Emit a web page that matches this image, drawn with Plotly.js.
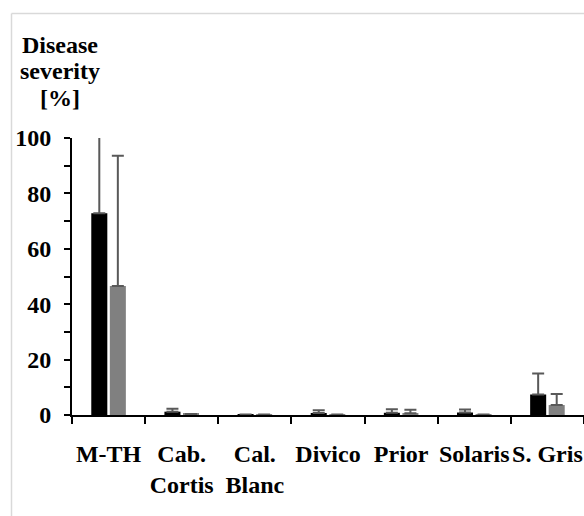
<!DOCTYPE html>
<html>
<head>
<meta charset="utf-8">
<script src="https://cdn.plot.ly/plotly-3.0.1.min.js"></script>
<style>
  html, body { margin: 0; padding: 0; background: #ffffff; }
  #chart { width: 584px; height: 516px; }
</style>
</head>
<body>
<div id="chart"></div>
<script>
// Categories (x-axis labels)
const categories = ["M-TH", "Cab.<br>Cortis", "Cal.<br>Blanc", "Divico", "Prior", "Solaris", "S. Gris"];

// Series 1 (black bars) and its error
const seriesBlack = [72.8, 1.2, 0.2, 0.7, 0.8, 0.9, 7.4];
const errorBlack  = [30, 1.1, 0, 1.0, 1.3, 1.1, 7.6];

// Series 2 (gray bars) and its error
const seriesGray  = [46.6, 0.4, 0.2, 0.2, 0.6, 0.2, 3.6];
const errorGray   = [47, 0, 0, 0, 1.3, 0, 4.0];

// Y-axis ticks
const yTickVals = [0, 10, 20, 30, 40, 50, 60, 70, 80, 90, 100];
const yTickText = ["0", "", "20", "", "40", "", "60", "", "80", "", "100"];

// Y-axis title lines
const yTitleLines = ["Disease", "severity", "[%]"];

const W = 584, H = 516;
const mL = 72, mR = 0, mT = 137.5, mB = 100.5;
const plotW = W - mL - mR, plotH = H - mT - mB;
const px2x = p => (p - mL) / plotW;
const px2y = p => 1 - (p - mT) / plotH;

const FAM = "Liberation Serif";
const FS = 24;
const boldFont = { family: FAM, size: FS, color: "#000000", weight: "bold" };

const errStyle = { type: "data", visible: true, symmetric: false, color: "#595959", thickness: 2, width: 6 };

const traces = [
  {
    type: "bar", x: categories, y: seriesBlack,
    marker: { color: "#000000", line: { width: 0 } },
    error_y: Object.assign({}, errStyle, { array: errorBlack, arrayminus: seriesBlack.map(() => 0) }),
    name: "A", hoverinfo: "skip"
  },
  {
    type: "bar", x: categories, y: seriesGray,
    marker: { color: "#808080", line: { width: 0 } },
    error_y: Object.assign({}, errStyle, { array: errorGray, arrayminus: seriesGray.map(() => 0) }),
    name: "B", hoverinfo: "skip"
  }
];

const titleCenters = [44, 70.5, 97];
const annotations = yTitleLines.map((t, i) => ({
  text: t, showarrow: false,
  xref: "paper", yref: "paper",
  x: px2x(59.5), y: px2y(titleCenters[i]),
  xanchor: "center", yanchor: "middle",
  font: boldFont
}));

const layout = {
  width: W, height: H,
  margin: { l: mL, r: mR, t: mT, b: mB, pad: 0 },
  paper_bgcolor: "#ffffff",
  plot_bgcolor: "#ffffff",
  showlegend: false,
  barmode: "group",
  bargap: 0.493,
  bargroupgap: 0.135,
  font: { family: FAM, size: FS, color: "#000000" },
  annotations: annotations,
  xaxis: {
    type: "category",
    range: [-0.5, 6.5],
    fixedrange: true,
    showgrid: false,
    zeroline: false,
    showline: true, linecolor: "#000000", linewidth: 2,
    ticks: "outside", ticklen: 7, tickwidth: 2, tickcolor: "#000000",
    tickson: "boundaries",
    tickangle: 0,
    ticklabelstandoff: 16,
    tickfont: boldFont
  },
  yaxis: {
    range: [0, 100],
    fixedrange: true,
    showgrid: false,
    zeroline: false,
    showline: true, linecolor: "#000000", linewidth: 2,
    ticks: "outside", ticklen: 6, tickwidth: 2, tickcolor: "#000000",
    tickmode: "array", tickvals: yTickVals, ticktext: yTickText,
    ticklabelstandoff: 8,
    tickfont: boldFont
  },
  shapes: [
    { type: "line", xref: "paper", yref: "paper", x0: px2x(11.5), x1: px2x(11.5), y0: px2y(12.5), y1: px2y(520), line: { color: "#d9d9d9", width: 1.5 } },
    { type: "line", xref: "paper", yref: "paper", x0: px2x(11.5), x1: px2x(590), y0: px2y(12.5), y1: px2y(12.5), line: { color: "#d9d9d9", width: 1.5 } }
  ]
};

Plotly.newPlot("chart", traces, layout, { displayModeBar: false });
</script>
</body>
</html>
